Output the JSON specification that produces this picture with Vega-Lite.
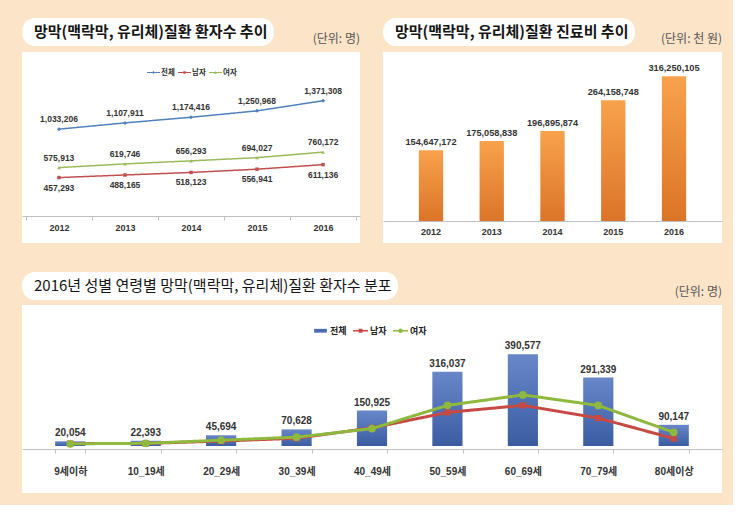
{
  "$schema": "https://vega.github.io/schema/vega-lite/v6.json",
  "background": "#fce4c8",
  "padding": {"left": 22, "top": 18, "right": 11, "bottom": 12},
  "config": {
    "view": {"fill": "white", "stroke": null},
    "font": "Noto Sans CJK KR"
  },
  "datasets": {
    "patients": [
      {"year": "2012", "series": "전체", "count": 1033206},
      {"year": "2013", "series": "전체", "count": 1107911},
      {"year": "2014", "series": "전체", "count": 1174416},
      {"year": "2015", "series": "전체", "count": 1250968},
      {"year": "2016", "series": "전체", "count": 1371308},
      {"year": "2012", "series": "남자", "count": 457293},
      {"year": "2013", "series": "남자", "count": 488165},
      {"year": "2014", "series": "남자", "count": 518123},
      {"year": "2015", "series": "남자", "count": 556941},
      {"year": "2016", "series": "남자", "count": 611136},
      {"year": "2012", "series": "여자", "count": 575913},
      {"year": "2013", "series": "여자", "count": 619746},
      {"year": "2014", "series": "여자", "count": 656293},
      {"year": "2015", "series": "여자", "count": 694027},
      {"year": "2016", "series": "여자", "count": 760172}
    ],
    "cost": [
      {"year": "2012", "cost": 154647172},
      {"year": "2013", "cost": 175058838},
      {"year": "2014", "cost": 196895874},
      {"year": "2015", "cost": 264158748},
      {"year": "2016", "cost": 316250105}
    ],
    "ageTotal": [
      {"age": "9세이하", "count": 20054},
      {"age": "10_19세", "count": 22393},
      {"age": "20_29세", "count": 45694},
      {"age": "30_39세", "count": 70628},
      {"age": "40_49세", "count": 150925},
      {"age": "50_59세", "count": 316037},
      {"age": "60_69세", "count": 390577},
      {"age": "70_79세", "count": 291339},
      {"age": "80세이상", "count": 90147}
    ],
    "ageSex": [
      {"age": "9세이하", "series": "남자", "count": 10600},
      {"age": "10_19세", "series": "남자", "count": 11000},
      {"age": "20_29세", "series": "남자", "count": 21000},
      {"age": "30_39세", "series": "남자", "count": 33000},
      {"age": "40_49세", "series": "남자", "count": 77000},
      {"age": "50_59세", "series": "남자", "count": 143000},
      {"age": "60_69세", "series": "남자", "count": 173000},
      {"age": "70_79세", "series": "남자", "count": 118800},
      {"age": "80세이상", "series": "남자", "count": 32000},
      {"age": "9세이하", "series": "여자", "count": 9500},
      {"age": "10_19세", "series": "여자", "count": 11400},
      {"age": "20_29세", "series": "여자", "count": 24700},
      {"age": "30_39세", "series": "여자", "count": 37600},
      {"age": "40_49세", "series": "여자", "count": 74000},
      {"age": "50_59세", "series": "여자", "count": 173000},
      {"age": "60_69세", "series": "여자", "count": 217500},
      {"age": "70_79세", "series": "여자", "count": 172500},
      {"age": "80세이상", "series": "여자", "count": 58000}
    ]
  },
  "spacing": 29,
  "resolve": {"scale": {"color": "independent", "shape": "independent", "size": "independent", "strokeDash": "independent"}},
  "vconcat": [
    {
      "spacing": 23,
      "resolve": {"scale": {"color": "independent", "shape": "independent", "size": "independent", "strokeDash": "independent"}},
      "hconcat": [
        {
          "width": 338,
          "height": 191,
          "title": {"text": "(단위: 명)", "anchor": "end", "offset": -28, "fontSize": 12, "fontWeight": "normal", "color": "#555555", "font": "Noto Sans CJK KR"},
          "data": {"name": "patients"},
          "encoding": {
            "x": {
              "field": "year", "type": "ordinal", "bandPosition": 0.5,
              "scale": {"type": "band", "paddingInner": 0, "paddingOuter": 0.06},
              "axis": {"orient": "bottom", "offset": -27, "title": null, "labelAngle": 0, "grid": false,
                "domainColor": "#bfbfbf", "tickColor": "#bfbfbf", "tickBand": "extent", "tickSize": 4,
                "labelPadding": 3, "labelFont": "Liberation Sans", "labelFontSize": 9, "labelFontWeight": "bold", "labelColor": "#333333"}
            },
            "y": {"field": "count", "type": "quantitative", "scale": {"domain": [-321000, 1951000]}, "axis": null}
          },
          "layer": [
            {
              "mark": {"type": "line", "strokeWidth": 1.5},
              "encoding": {
                "strokeDash": {"datum": "망막(맥락막, 유리체)질환 환자수 추이", "type": "nominal",
                  "legend": {"orient": "none", "legendX": 0, "legendY": -34, "title": null,
                    "fillColor": "white", "cornerRadius": 13, "padding": 6,
                    "symbolSize": 0, "symbolOpacity": 0, "symbolStrokeWidth": 0, "labelOffset": -9, "labelLimit": 0,
                    "labelFont": "Noto Sans CJK KR", "labelFontSize": 15, "labelFontWeight": "bold", "labelColor": "#151515"}
                },
                "color": {"field": "series", "type": "nominal", "scale": {"domain": ["전체", "남자", "여자"], "range": ["#4f81bd", "#c0504d", "#9bbb59"]},
                  "legend": {"orient": "none", "legendX": 125, "legendY": 14, "direction": "horizontal", "title": null,
                    "symbolSize": 169, "symbolStrokeWidth": 0, "labelOffset": 1, "columnPadding": 3,
                    "labelFont": "Noto Sans CJK KR", "labelFontSize": 7.5, "labelFontWeight": "bold", "labelColor": "#333333",
                    "encode": {"symbols": {"update": {
                      "fill": {"signal": "datum.value === '전체' ? '#4f81bd' : datum.value === '남자' ? '#c0504d' : '#9bbb59'"},
                      "fillOpacity": {"value": 1},
                      "strokeWidth": {"value": 0},
                      "shape": {"signal": "datum.value === '전체' ? 'M-1,-0.07H1V0.07H-1Z M0,-0.24L0.24,0L0,0.24L-0.24,0Z' : datum.value === '남자' ? 'M-1,-0.07H1V0.07H-1Z M-0.19,-0.19H0.19V0.19H-0.19Z' : 'M-1,-0.07H1V0.07H-1Z M0,-0.25L0.24,0.18H-0.24Z'"}}}}
                  }
                }
              }
            },
            {
              "transform": [{"filter": "datum.series === '전체'"}],
              "mark": {"type": "point", "filled": true, "opacity": 1, "size": 16, "shape": "diamond", "color": "#4f81bd"}
            },
            {
              "transform": [{"filter": "datum.series === '남자'"}],
              "mark": {"type": "point", "filled": true, "opacity": 1, "size": 12, "shape": "square", "color": "#c0504d"}
            },
            {
              "transform": [{"filter": "datum.series === '여자'"}],
              "mark": {"type": "point", "filled": true, "opacity": 1, "size": 14, "shape": "triangle-up", "color": "#9bbb59"}
            },
            {
              "transform": [{"filter": "datum.series !== '남자'"}],
              "mark": {"type": "text", "dy": -10, "baseline": "middle", "font": "Liberation Sans", "fontSize": 8.5, "fontWeight": "bold", "color": "#333333"},
              "encoding": {"text": {"field": "count", "type": "quantitative", "format": ","}}
            },
            {
              "transform": [{"filter": "datum.series === '남자'"}],
              "mark": {"type": "text", "dy": 10, "baseline": "middle", "font": "Liberation Sans", "fontSize": 8.5, "fontWeight": "bold", "color": "#333333"},
              "encoding": {"text": {"field": "count", "type": "quantitative", "format": ","}}
            }
          ]
        },
        {
          "width": 339,
          "height": 191,
          "title": {"text": "(단위: 천 원)", "anchor": "end", "offset": -28, "fontSize": 12, "fontWeight": "normal", "color": "#555555", "font": "Noto Sans CJK KR"},
          "data": {"name": "cost"},
          "encoding": {
            "x": {
              "field": "year", "type": "ordinal",
              "scale": {"type": "band", "paddingInner": 0.6, "paddingOuter": 0.59},
              "axis": {"orient": "bottom", "offset": -22, "title": null, "labelAngle": 0, "grid": false,
                "domainColor": "#bfbfbf", "ticks": false, "tickSize": 0,
                "labelPadding": 6, "labelFont": "Liberation Sans", "labelFontSize": 9, "labelFontWeight": "bold", "labelColor": "#333333"}
            },
            "y": {"field": "cost", "type": "quantitative", "scale": {"domain": [-48100000, 369400000]}, "axis": null}
          },
          "layer": [
            {
              "mark": {"type": "bar", "color": {"gradient": "linear", "x1": 0, "y1": 0, "x2": 0, "y2": 1,
                "stops": [{"offset": 0, "color": "#f8a24c"}, {"offset": 1, "color": "#db7428"}]}},
              "encoding": {
                "strokeDash": {"datum": "망막(맥락막, 유리체)질환 진료비 추이", "type": "nominal",
                  "legend": {"orient": "none", "legendX": 0, "legendY": -34, "title": null,
                    "fillColor": "white", "cornerRadius": 13, "padding": 6,
                    "symbolSize": 0, "symbolOpacity": 0, "symbolStrokeWidth": 0, "labelOffset": -9, "labelLimit": 0,
                    "labelFont": "Noto Sans CJK KR", "labelFontSize": 15, "labelFontWeight": "bold", "labelColor": "#151515"}
                }
              }
            },
            {
              "mark": {"type": "text", "dy": -3, "baseline": "bottom", "font": "Liberation Sans", "fontSize": 9.2, "fontWeight": "bold", "color": "#333333"},
              "encoding": {"text": {"field": "cost", "type": "quantitative", "format": ","}}
            }
          ]
        }
      ]
    },
    {
      "width": 700,
      "height": 188,
      "title": {"text": "(단위: 명)", "anchor": "end", "offset": -27, "fontSize": 12, "fontWeight": "normal", "color": "#555555", "font": "Noto Sans CJK KR"},
      "layer": [
        {
          "data": {"name": "ageTotal"},
          "mark": {"type": "bar", "color": {"gradient": "linear", "x1": 0, "y1": 0, "x2": 0, "y2": 1,
            "stops": [{"offset": 0, "color": "#6787c9"}, {"offset": 1, "color": "#3c5ca2"}]}},
          "encoding": {
            "x": {
              "field": "age", "type": "nominal", "sort": null,
              "scale": {"type": "band", "paddingInner": 0.6, "paddingOuter": 0.44},
              "axis": {"orient": "bottom", "offset": -44, "title": null, "labelAngle": 0, "grid": false,
                "domainColor": "#bfbfbf", "tickColor": "#bfbfbf", "tickBand": "extent", "tickSize": 4,
                "labelPadding": 13, "labelFont": "Liberation Sans, Noto Sans CJK KR", "labelFontSize": 10, "labelFontWeight": "bold", "labelColor": "#333333"}
            },
            "y": {"field": "count", "type": "quantitative", "scale": {"domain": [-174000, 570000]}, "axis": null}
          }
        },
        {
          "data": {"name": "ageTotal"},
          "mark": {"type": "text", "dy": -3, "baseline": "bottom", "font": "Liberation Sans", "fontSize": 10, "fontWeight": "bold", "color": "#333333"},
          "encoding": {
            "x": {"field": "age", "type": "nominal", "sort": null, "bandPosition": 0.5},
            "y": {"field": "count", "type": "quantitative"},
            "text": {"field": "count", "type": "quantitative", "format": ","}
          }
        },
        {
          "data": {"name": "ageSex"},
          "mark": {"type": "line", "strokeWidth": 3},
          "encoding": {
            "x": {"field": "age", "type": "nominal", "sort": null, "bandPosition": 0.5},
            "y": {"field": "count", "type": "quantitative"},
            "strokeDash": {"datum": "2016년 성별 연령별 망막(맥락막, 유리체)질환 환자수 분포", "type": "nominal",
              "legend": {"orient": "none", "legendX": 0, "legendY": -33, "title": null,
                "fillColor": "white", "cornerRadius": 13, "padding": 6,
                "symbolSize": 0, "symbolOpacity": 0, "symbolStrokeWidth": 0, "labelOffset": -9, "labelLimit": 0,
                "labelFont": "Noto Sans CJK KR", "labelFontSize": 15, "labelFontWeight": "normal", "labelColor": "#151515"}
            },
            "color": {"field": "series", "type": "nominal", "scale": {"domain": ["전체", "남자", "여자"], "range": ["#4a6cb3", "#c64a43", "#8fb83f"]},
              "legend": {"orient": "none", "legendX": 291, "legendY": 18, "direction": "horizontal", "title": null,
                "symbolSize": 225, "symbolStrokeWidth": 0, "labelOffset": 2, "columnPadding": 6,
                "labelFont": "Noto Sans CJK KR", "labelFontSize": 9, "labelFontWeight": "bold", "labelColor": "#222222",
                "encode": {"symbols": {"update": {
                  "fill": {"signal": "datum.value === '전체' ? '#4a6cb3' : datum.value === '남자' ? '#c64a43' : '#8fb83f'"},
                  "fillOpacity": {"value": 1},
                  "strokeWidth": {"value": 0},
                  "shape": {"signal": "datum.value === '전체' ? 'M-0.85,-0.25H0.85V0.25H-0.85Z' : datum.value === '남자' ? 'M-1,-0.1H1V0.1H-1Z M-0.26,-0.26H0.26V0.26H-0.26Z' : 'M-1,-0.1H1V0.1H-1Z M0.3,0A0.3,0.3 0 1,1 -0.3,0A0.3,0.3 0 1,1 0.3,0Z'"}}}}
              }
            }
          }
        },
        {
          "data": {"name": "ageSex"},
          "mark": {"type": "point", "filled": true, "opacity": 1},
          "encoding": {
            "x": {"field": "age", "type": "nominal", "sort": null, "bandPosition": 0.5},
            "y": {"field": "count", "type": "quantitative"},
            "shape": {"field": "series", "type": "nominal", "scale": {"domain": ["남자", "여자"], "range": ["square", "circle"]}, "legend": null},
            "size": {"field": "series", "type": "nominal", "scale": {"domain": ["남자", "여자"], "range": [40, 60]}, "legend": null},
            "color": {"field": "series", "type": "nominal"}
          }
        }
      ]
    }
  ]
}
